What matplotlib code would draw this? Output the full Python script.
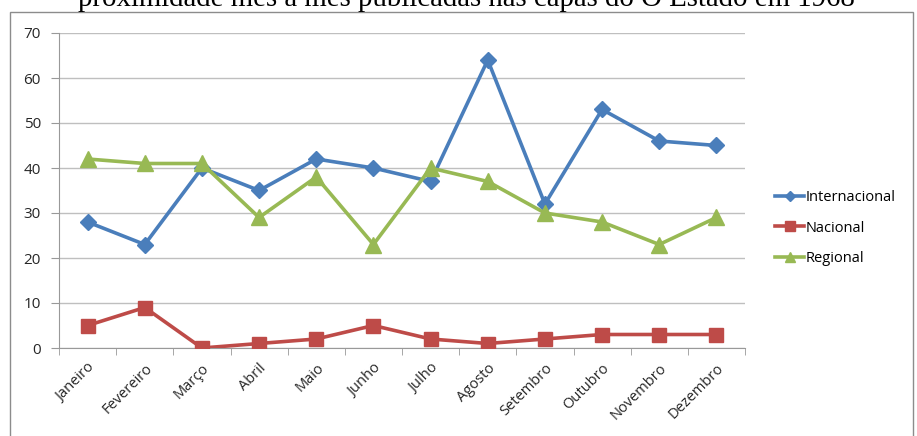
import matplotlib.pyplot as plt
from matplotlib.patches import Rectangle

meses = ['Janeiro', 'Fevereiro', 'Março', 'Abril', 'Maio', 'Junho', 'Julho',
         'Agosto', 'Setembro', 'Outubro', 'Novembro', 'Dezembro']
internacional = [28, 23, 40, 35, 42, 40, 37, 64, 32, 53, 46, 45]
nacional = [5, 9, 0, 1, 2, 5, 2, 1, 2, 3, 3, 3]
regional = [42, 41, 41, 29, 38, 23, 40, 37, 30, 28, 23, 29]

W, H = 917, 436
fig = plt.figure(figsize=(W / 100, H / 100), dpi=100)

# Title is cut at the top of the picture
fig.text(466 / W, 1 - 6 / H,
         'proximidade mês a mês publicadas nas capas do O Estado em 1968',
         ha='center', va='baseline', fontsize=20.8, family='Liberation Serif')

# Chart frame
fig.patches.append(Rectangle((10 / W, -0.1), (913 - 10) / W, 1.1 - 12 / H,
                             transform=fig.transFigure, fill=False,
                             edgecolor='#8c8c8c', linewidth=1))

ax = fig.add_axes([59 / W, 1 - 348 / H, (745 - 59) / W, (348 - 33) / H])
x = list(range(len(meses)))
ax.plot(x, internacional, color='#4a7ebb', lw=2.6, marker='D', ms=8,
        label='Internacional', zorder=3)
ax.plot(x, nacional, color='#be4b48', lw=2.6, marker='s', ms=10,
        label='Nacional', zorder=3)
ax.plot(x, regional, color='#98b954', lw=2.6, marker='^', ms=11,
        label='Regional', zorder=3)

ax.set_xlim(-0.5, 11.5)
ax.set_ylim(0, 70)
ax.set_yticks(range(0, 71, 10))
ax.yaxis.grid(True, color='#bfbfbf', lw=1)
ax.set_axisbelow(True)

ax.set_xticks(x)
ax.set_xticklabels(meses, rotation=45, ha='right', rotation_mode='anchor',
                   family='Open Sans', fontsize=10.5, color='#262626')
ax.set_xticks([i - 0.5 for i in range(13)], minor=True)
ax.tick_params(axis='x', which='major', length=0, pad=9)
ax.tick_params(axis='x', which='minor', length=5, color='#999999', direction='out')
ax.tick_params(axis='y', length=6, color='#999999', labelsize=11, pad=7,
               labelcolor='#262626')
for lbl in ax.get_yticklabels():
    lbl.set_family('Open Sans')

for s in ['top', 'right']:
    ax.spines[s].set_visible(False)
for s in ['left', 'bottom']:
    ax.spines[s].set_color('#999999')

ax.legend(loc='center left', bbox_to_anchor=(762 / W, 1 - 228 / H),
          bbox_transform=fig.transFigure, frameon=False,
          prop={'family': 'Open Sans', 'size': 10.5}, handlelength=2.0,
          handletextpad=0.1, labelspacing=1.05, markerscale=0.7)

fig.savefig('out.png', dpi=100)
